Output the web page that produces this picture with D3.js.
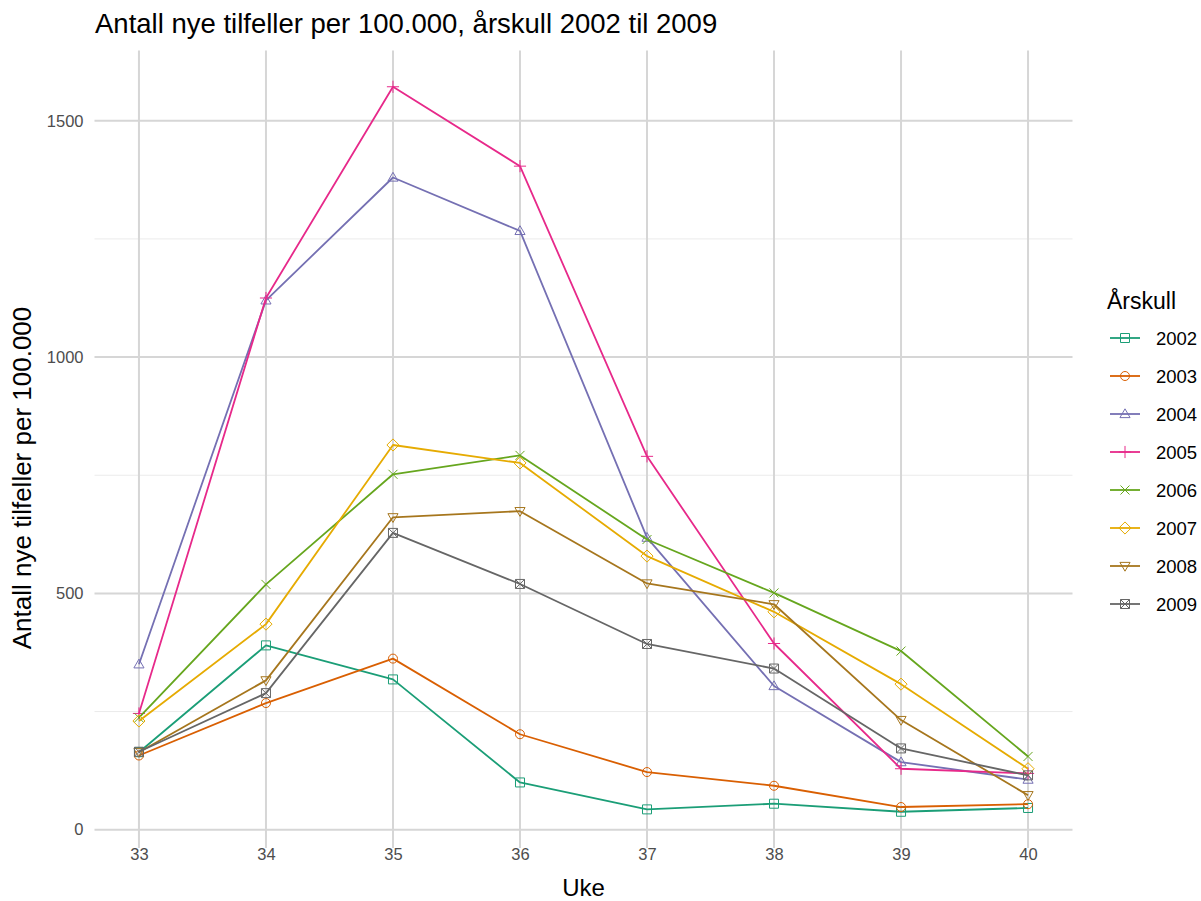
<!DOCTYPE html>
<html><head><meta charset="utf-8">
<script src="https://cdn.jsdelivr.net/npm/d3@7"></script>
<style>
body{margin:0;background:#fff}
text{font-family:"Liberation Sans",Arial,Helvetica,sans-serif}
</style>
</head><body>
<svg id="chart" width="1201" height="901"></svg>
<script>
// ---- data ----
const weeks = [33, 34, 35, 36, 37, 38, 39, 40];
const cohorts = ["2002", "2003", "2004", "2005", "2006", "2007", "2008", "2009"];
const v2002 = [164, 390, 318, 100, 43, 55, 38, 46];
const v2003 = [157, 268, 362, 202, 122, 93, 48, 54];
const v2004 = [350, 1120, 1380, 1267, 618, 304, 143, 106];
const v2005 = [246, 1125, 1572, 1404, 790, 394, 129, 119];
const v2006 = [237, 519, 752, 792, 614, 501, 378, 155];
const v2007 = [230, 435, 814, 776, 579, 461, 308, 129];
const v2008 = [164, 316, 661, 674, 521, 477, 232, 73];
const v2009 = [165, 289, 628, 520, 393, 341, 172, 115];
const yMajorTicks = [0, 500, 1000, 1500];
const yMinorTicks = [250, 750, 1250];
const colors = ["#1B9E77", "#D95F02", "#7570B3", "#E7298A", "#66A61E", "#E6AB02", "#A6761D", "#666666"];
const shapes = ["square", "circle", "triangle", "plus", "cross", "diamond", "triangleDown", "squareCross"];
const titleText = "Antall nye tilfeller per 100.000, årskull 2002 til 2009";
const xTitle = "Uke";
const yTitle = "Antall nye tilfeller per 100.000";
const legendTitle = "Årskull";

const seriesValues = [v2002, v2003, v2004, v2005, v2006, v2007, v2008, v2009];
const series = cohorts.map((c, i) => ({
  name: c, color: colors[i], shape: shapes[i],
  points: weeks.map((w, j) => ({ w, v: seriesValues[i][j] }))
}));

// ---- layout ----
const svg = d3.select("#chart");
const panel = { left: 94.5, right: 1072.5, top: 50.5, bottom: 848 };

const allV = seriesValues.flat();
const vMin = d3.min(allV), vMax = d3.max(allV);
const vPad = (vMax - vMin) * 0.05;
const wMin = d3.min(weeks), wMax = d3.max(weeks);
const wPad = (wMax - wMin) * 0.05;

const x = d3.scaleLinear().domain([wMin - wPad, wMax + wPad]).range([panel.left, panel.right]);
const y = d3.scaleLinear().domain([vMin - vPad, vMax + vPad]).range([panel.bottom, panel.top]);

const FONT = "'Liberation Sans',Arial,sans-serif";

// grid
const grid = svg.append("g");
grid.selectAll("line.minor").data(yMinorTicks).join("line")
  .attr("x1", panel.left).attr("x2", panel.right)
  .attr("y1", d => y(d)).attr("y2", d => y(d))
  .attr("stroke", "#ebebeb").attr("stroke-width", 1);
grid.selectAll("line.majy").data(yMajorTicks).join("line")
  .attr("x1", panel.left).attr("x2", panel.right)
  .attr("y1", d => y(d)).attr("y2", d => y(d))
  .attr("stroke", "#d6d6d6").attr("stroke-width", 2);
grid.selectAll("line.majx").data(weeks).join("line")
  .attr("x1", d => x(d)).attr("x2", d => x(d))
  .attr("y1", panel.top).attr("y2", panel.bottom)
  .attr("stroke", "#d6d6d6").attr("stroke-width", 2);

// axes (labels only)
const xAxis = svg.append("g").attr("transform", `translate(0,${panel.bottom})`)
  .call(d3.axisBottom(x).tickValues(weeks).tickFormat(d3.format("d")).tickSize(0).tickPadding(0));
xAxis.select(".domain").remove();
xAxis.selectAll("text").attr("font-size", 16.5).attr("fill", "#4d4d4d").style("font-family", FONT);

const yAxis = svg.append("g").attr("transform", `translate(${panel.left},0)`)
  .call(d3.axisLeft(y).tickValues(yMajorTicks).tickFormat(d3.format("d")).tickSize(0).tickPadding(11));
yAxis.select(".domain").remove();
yAxis.selectAll("text").attr("font-size", 16.5).attr("fill", "#4d4d4d").style("font-family", FONT);

// titles
svg.append("text").attr("x", 95).attr("y", 33).attr("font-size", 27.5).attr("fill", "#000").text(titleText);
svg.append("text").attr("x", (panel.left + panel.right) / 2).attr("y", 896)
  .attr("text-anchor", "middle").attr("font-size", 24).attr("fill", "#000").text(xTitle);
svg.append("text").attr("transform", `translate(31,${478}) rotate(-90)`)
  .attr("text-anchor", "middle").attr("font-size", 26).attr("fill", "#000").text(yTitle);

// marker path generator
function shapePath(s, r) {
  const p = d3.path();
  switch (s) {
    case "square": p.rect(-r, -r, 2 * r, 2 * r); break;
    case "circle": p.moveTo(r, 0); p.arc(0, 0, r, 0, 2 * Math.PI); break;
    case "triangle": {
      const h = r * 1.15;
      p.moveTo(0, -h); p.lineTo(h * 0.98, h * 0.7); p.lineTo(-h * 0.98, h * 0.7); p.closePath(); break;
    }
    case "triangleDown": {
      const h = r * 1.15;
      p.moveTo(0, h); p.lineTo(h * 0.98, -h * 0.7); p.lineTo(-h * 0.98, -h * 0.7); p.closePath(); break;
    }
    case "plus": { const a = r * 1.35; p.moveTo(-a, 0); p.lineTo(a, 0); p.moveTo(0, -a); p.lineTo(0, a); break; }
    case "cross": { const a = r; p.moveTo(-a, -a); p.lineTo(a, a); p.moveTo(-a, a); p.lineTo(a, -a); break; }
    case "diamond": { const a = r * 1.35; p.moveTo(0, -a); p.lineTo(a, 0); p.lineTo(0, a); p.lineTo(-a, 0); p.closePath(); break; }
    case "squareCross":
      p.rect(-r, -r, 2 * r, 2 * r); p.moveTo(-r, -r); p.lineTo(r, r); p.moveTo(-r, r); p.lineTo(r, -r); break;
  }
  return p.toString();
}

// lines
const line = d3.line().x(d => x(d.w)).y(d => y(d.v));
const gs = svg.append("g").selectAll("g").data(series).join("g");
gs.append("path").attr("d", d => line(d.points)).attr("fill", "none")
  .attr("stroke", d => d.color).attr("stroke-width", 1.8).attr("stroke-linejoin", "round");
gs.each(function (s) {
  d3.select(this).selectAll("path.m").data(s.points).join("path").attr("class", "m")
    .attr("transform", d => `translate(${x(d.w)},${y(d.v)})`)
    .attr("d", shapePath(s.shape, 4.5)).attr("fill", "none")
    .attr("stroke", s.color).attr("stroke-width", 1);
});

// legend
const lg = svg.append("g");
lg.append("text").attr("x", 1107).attr("y", 309).attr("font-size", 23).attr("fill", "#000").text(legendTitle);
const items = lg.selectAll("g.item").data(series).join("g").attr("class", "item")
  .attr("transform", (d, i) => `translate(1125,${338 + i * 38})`);
items.append("line").attr("x1", -15).attr("x2", 15).attr("y1", 0).attr("y2", 0)
  .attr("stroke", d => d.color).attr("stroke-width", 1.8);
items.append("path").attr("d", d => shapePath(d.shape, 4.5)).attr("fill", "none")
  .attr("stroke", d => d.color).attr("stroke-width", 1);
items.append("text").attr("x", 31).attr("y", 0).attr("dy", "0.36em")
  .attr("font-size", 18.5).attr("fill", "#000").text(d => d.name);
</script>
</body></html>
